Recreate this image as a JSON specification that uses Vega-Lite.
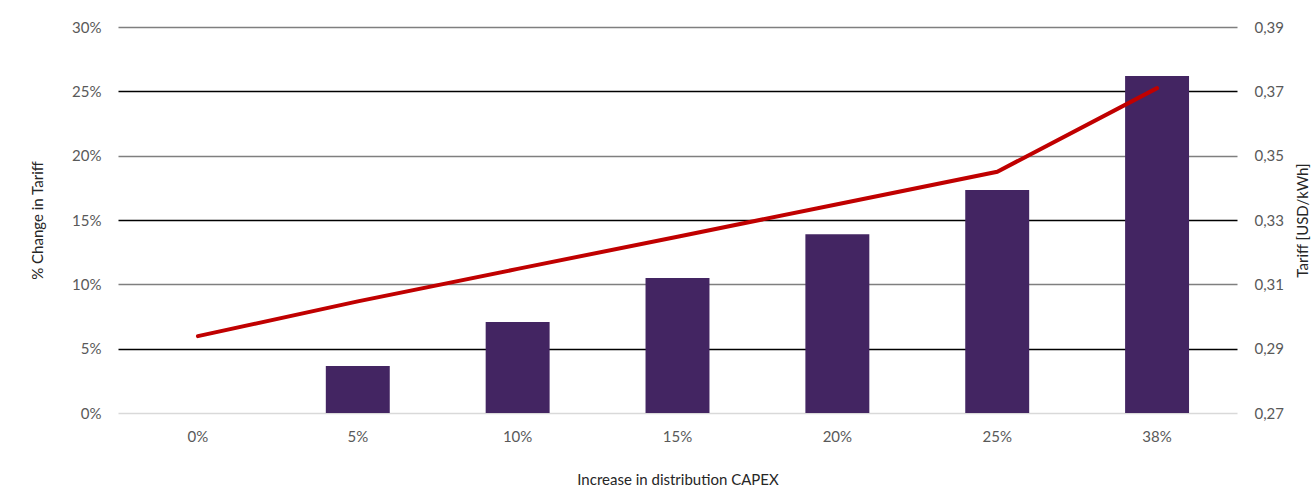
{
  "$schema": "https://vega.github.io/schema/vega-lite/v6.json",
  "width": 1119,
  "height": 386,
  "autosize": "none",
  "padding": {"left": 118, "top": 27, "right": 76, "bottom": 77},
  "background": "white",
  "config": {
    "view": {"stroke": null},
    "font": "Lato",
    "axis": {"labelFont": "Lato", "titleFont": "Lato", "labelFontSize": 15, "titleFontSize": 15, "labelColor": "#595959", "titleColor": "#262626", "titleFontWeight": "normal", "domain": false, "ticks": false}
  },
  "data": {
    "values": [
      {"capex": "0%", "change": 0.0, "tariff": 0.2939},
      {"capex": "5%", "change": 0.0365, "tariff": 0.3047},
      {"capex": "10%", "change": 0.0707, "tariff": 0.3148},
      {"capex": "15%", "change": 0.1049, "tariff": 0.3248},
      {"capex": "20%", "change": 0.139, "tariff": 0.3349},
      {"capex": "25%", "change": 0.1733, "tariff": 0.345},
      {"capex": "38%", "change": 0.262, "tariff": 0.371}
    ]
  },
  "encoding": {
    "x": {
      "field": "capex", "type": "nominal", "sort": null,
      "scale": {"paddingInner": 0.6, "paddingOuter": 0.3},
      "axis": {"title": "Increase in distribution CAPEX", "labelAngle": 0, "labelPadding": 16, "titlePadding": 28, "grid": false}
    }
  },
  "layer": [
    {
      "mark": {"type": "bar", "color": "#432562"},
      "encoding": {
        "y": {
          "field": "change", "type": "quantitative",
          "scale": {"domain": [0, 0.3], "nice": false},
          "axis": {
            "title": "% Change in Tariff", "format": ".0%", "values": [0, 0.05, 0.1, 0.15, 0.2, 0.25, 0.3],
            "labelPadding": 17, "titlePadding": 26, "grid": true, "gridWidth": 1.3,
            "gridColor": {"condition": [{"test": "datum.value == 0", "value": "#d9d9d9"}, {"test": "round(datum.value*100) % 10 == 5", "value": "#000000"}], "value": "#7f7f7f"},
            "zindex": 0
          }
        }
      }
    },
    {
      "mark": {"type": "line", "color": "#c00000", "strokeWidth": 4, "strokeCap": "round"},
      "encoding": {
        "y": {
          "field": "tariff", "type": "quantitative",
          "scale": {"domain": [0.27, 0.39], "nice": false, "zero": false},
          "axis": {
            "orient": "right", "title": "Tariff [USD/kWh]", "titleAngle": 270, "values": [0.27, 0.29, 0.31, 0.33, 0.35, 0.37, 0.39],
            "labelExpr": "replace(format(datum.value, '.2f'), '.', ',')",
            "labelPadding": 17, "titlePadding": 27, "grid": false
          }
        }
      }
    }
  ],
  "resolve": {"scale": {"y": "independent"}}
}
